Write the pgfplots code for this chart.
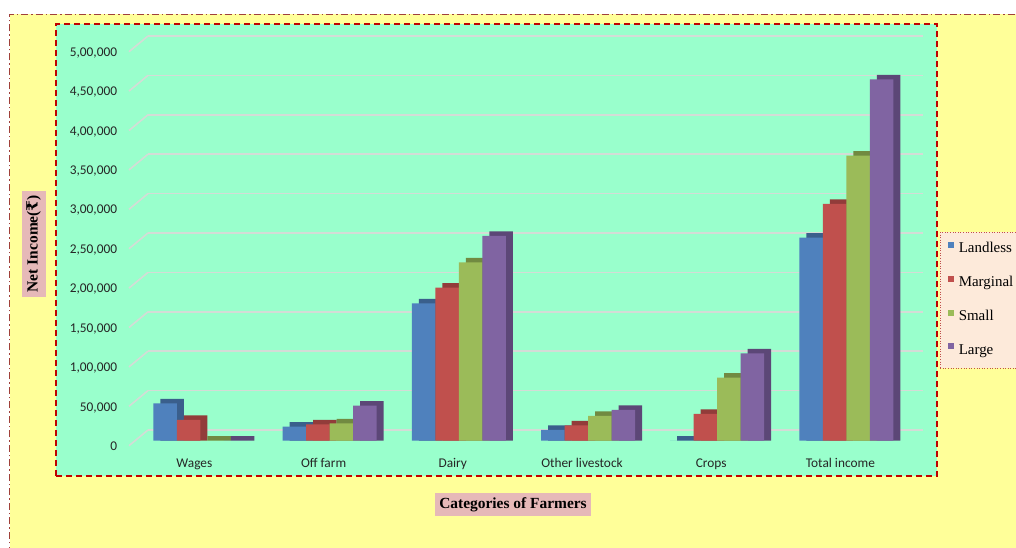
\documentclass[border=0pt]{standalone}
\usepackage{fontspec}
\setmainfont{Liberation Serif}
\newfontfamily\calibri{Carlito}
\newfontfamily\rupee{DejaVu Serif}
\usepackage{pgfplots}
\usepackage{pgfplotstable}
\pgfplotsset{compat=1.18}
\definecolor{bgY}{HTML}{FFFF99}
\definecolor{mint}{HTML}{99FFCC}
\definecolor{bordR}{HTML}{C00000}
\definecolor{outerR}{HTML}{A0403A}
\definecolor{gridc}{HTML}{D4DCD6}
\definecolor{pinkL}{HTML}{E6B9B8}
\definecolor{legbg}{HTML}{FDEADA}
\definecolor{legbd}{HTML}{C0504D}
\definecolor{cB}{HTML}{4F81BD}\definecolor{cBd}{HTML}{3A5F8C}
\definecolor{cR}{HTML}{C0504D}\definecolor{cRd}{HTML}{923C3A}
\definecolor{cG}{HTML}{9BBB59}\definecolor{cGd}{HTML}{718A41}
\definecolor{cP}{HTML}{8064A2}\definecolor{cPd}{HTML}{5C4777}

\pgfplotstableread{
x landless marginal small large
0 47500 26300 0 0
1 17800 20800 22100 44400
2 174400 194200 226400 259800
3 13600 19500 31400 39000
4 0 33900 80000 110900
5 257600 300400 361700 458600
}\datatable

\begin{document}
\begin{tikzpicture}
\useasboundingbox (0,0) rectangle (1016bp,548bp);
\clip (0,0) rectangle (1016bp,548bp);
\fill[white] (0,0) rectangle (1016bp,548bp);
\fill[bgY] (9.5bp,-20bp) rectangle (1040bp,533.5bp);
\draw[outerR, line width=1.2bp, dash pattern=on 7bp off 3bp on 1.5bp off 3bp] (9.5bp,-20bp) -- (9.5bp,533.5bp) -- (1040bp,533.5bp);
\filldraw[fill=mint, draw=bordR, line width=1.8bp, dash pattern=on 6bp off 4bp] (56bp,72.3bp) rectangle (937.3bp,524bp);
\begin{axis}[
  at={(135.8bp,107.3bp)}, anchor=south west,
  scale only axis, width=775.2bp, height=394bp,
  xmin=-0.5, xmax=5.5, ymin=0, ymax=500000,
  clip=false,
  axis line style={draw=none},
  tick style={draw=none},
  xtick={0,1,2,3,4,5},
  xticklabels={Wages,Off farm,Dairy,Other livestock,Crops,Total income},
  ytick={0,50000,100000,150000,200000,250000,300000,350000,400000,450000,500000},
  yticklabels={0,{50,000},{1,00,000},{1,50,000},{2,00,000},{2,50,000},{3,00,000},{3,50,000},{4,00,000},{4,50,000},{5,00,000}},
  scaled y ticks=false,
  ticklabel style={font=\calibri\fontsize{13.4}{16}\selectfont, text=black!85, inner sep=0pt},
  xticklabel style={anchor=base, xshift=-6bp, yshift=-27bp},
  yticklabel style={anchor=base east, xshift=-18.5bp, yshift=-9.7bp},
  ymajorgrids,
  major grid style={draw=gridc, line width=1.6bp, xshift=12.2bp, yshift=10.7bp},
  xlabel={Categories of Farmers},
  ylabel={Net Income({\rupee ₹})},
  every axis x label/.style={at={(axis description cs:0.5,0)}, anchor=center, xshift=-10.4bp, yshift=-63.8bp},
  every axis y label/.style={at={(axis description cs:0,0.5)}, anchor=center, xshift=-101.8bp, rotate=90},
  label style={fill=pinkL, font=\bfseries\fontsize{15.5}{18}\selectfont, inner xsep=4.5bp, inner ysep=4.5bp, text height=11bp, text depth=3.5bp},
  legend style={at={(1.0374,0.5305)}, anchor=north west, fill=legbg, draw=legbd, line width=0.6bp, dotted,
    inner xsep=8bp, inner ysep=10bp, row sep=18.7bp, column sep=4.5bp,
    font=\fontsize{15}{18}\selectfont,
    nodes={inner sep=0pt, text height=11bp, text depth=4bp}},
  legend cell align=left,
  legend image code/.code={\fill[#1,draw=none,solid] (0bp,1.3bp) rectangle (6bp,7.3bp); \path (0bp,0bp);},
]
\pgfplotsinvokeforeach{0,50000,100000,150000,200000,250000,300000,350000,400000,450000,500000}{
  \draw[gridc, line width=1.6bp] ([xshift=-6.8bp,yshift=-5bp]axis cs:-0.5,#1) -- ([xshift=12.2bp,yshift=10.7bp]axis cs:-0.5,#1);
}
% depth faces (top and side) of the 3D columns
\addplot[ybar, bar width=23.5bp, bar shift=-28.25bp, fill=cBd, draw=none, forget plot] table[x=x, y expr=\thisrow{landless}+5700] {\datatable};
\addplot[ybar, bar width=23.5bp, bar shift=-4.75bp, fill=cRd, draw=none, forget plot] table[x=x, y expr=\thisrow{marginal}+5700] {\datatable};
\addplot[ybar, bar width=23.5bp, bar shift=18.75bp, fill=cGd, draw=none, forget plot] table[x=x, y expr=\thisrow{small}+5700] {\datatable};
\addplot[ybar, bar width=23.5bp, bar shift=42.25bp, fill=cPd, draw=none, forget plot] table[x=x, y expr=\thisrow{large}+5700] {\datatable};
% front faces
\addplot[ybar, bar width=23.5bp, bar shift=-35.25bp, fill=cB, draw=none] table[x=x, y=landless] {\datatable};
\addlegendentry{Landless}
\addplot[ybar, bar width=23.5bp, bar shift=-11.75bp, fill=cR, draw=none] table[x=x, y=marginal] {\datatable};
\addlegendentry{Marginal}
\addplot[ybar, bar width=23.5bp, bar shift=11.75bp, fill=cG, draw=none] table[x=x, y=small] {\datatable};
\addlegendentry{Small}
\addplot[ybar, bar width=23.5bp, bar shift=35.25bp, fill=cP, draw=none] table[x=x, y=large] {\datatable};
\addlegendentry{Large}
\end{axis}
\end{tikzpicture}
\end{document}
